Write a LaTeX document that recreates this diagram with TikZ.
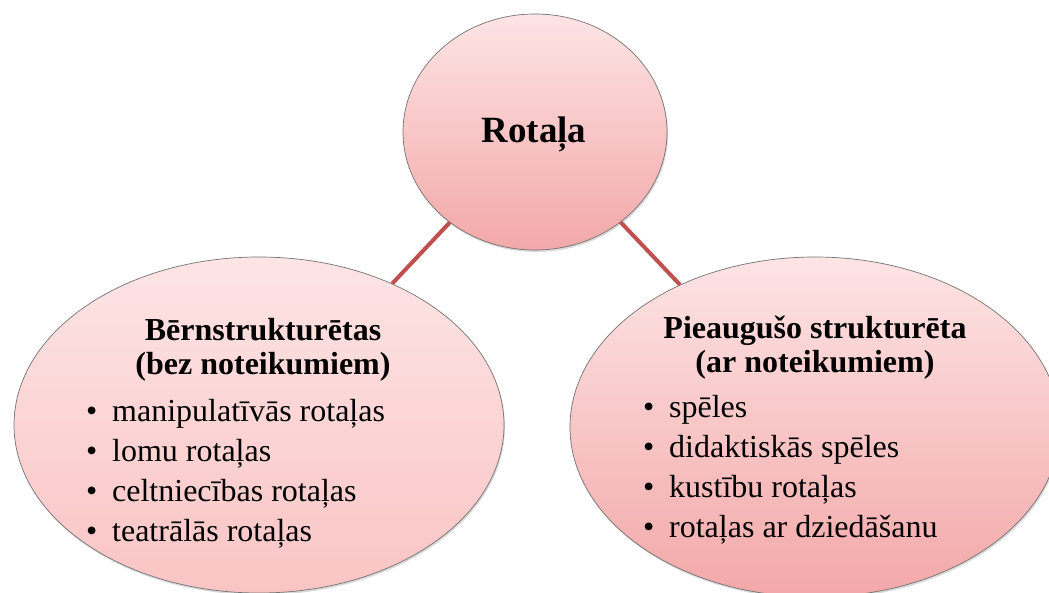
\documentclass[tikz,border=0pt]{standalone}
\usepackage{fontspec}
\setmainfont{Liberation Serif}
\usetikzlibrary{shapes.geometric,shadows}

\definecolor{pinktop}{RGB}{253,228,229}
\definecolor{pinkbot}{RGB}{243,168,168}
\definecolor{pinklow}{RGB}{250,196,196}
\definecolor{linkred}{RGB}{192,80,77}

\tikzset{
  bubble/.style={ellipse, draw=black!55, line width=0.7pt, inner sep=0pt,
    top color=pinktop, bottom color=pinkbot,
    drop shadow={shadow xshift=1pt, shadow yshift=-2pt, opacity=0.3}},
  link/.style={draw=linkred, line width=4pt},
  head/.style={font=\fontsize{32}{34}\selectfont\bfseries, align=center,
    anchor=north, inner sep=0pt},
  items/.style={font=\fontsize{32}{40}\selectfont, align=left,
    anchor=north west, inner sep=0pt}
}

\newcommand{\itm}{\makebox[26pt][l]{\textbullet}}

\begin{document}
\begin{tikzpicture}[x=1pt,y=-1pt]
  \useasboundingbox (0,0) rectangle (1049,593);

  % Bubbles
  \node[bubble, minimum width=264pt, minimum height=236pt] (rotala) at (535,132) {};
  \node[bubble, bottom color=pinklow, minimum width=490pt, minimum height=336pt] (bern) at (259,425) {};
  \node[bubble, minimum width=490pt, minimum height=340pt] (pieaug) at (815,427) {};

  % Links
  \draw[link] (rotala) -- (bern);
  \draw[link] (rotala) -- (pieaug);

  % Title
  \node[font=\fontsize{37}{40}\selectfont\bfseries, anchor=base] (title) at (534,143) {Rotaļa};

  % Left side
  \node[head] (bernhead) at (263,318) {Bērnstrukturētas\\(bez noteikumiem)};
  \node[items] (bernlist) at (86,399) {\itm manipulatīvās rotaļas\\
    \itm lomu rotaļas\\
    \itm celtniecības rotaļas\\
    \itm teatrālās rotaļas};

  % Right side
  \node[head] (pieaughead) at (815,316) {Pieaugušo strukturēta\\(ar noteikumiem)};
  \node[items] (pieauglist) at (643,395) {\itm spēles\\
    \itm didaktiskās spēles\\
    \itm kustību rotaļas\\
    \itm rotaļas ar dziedāšanu};
\end{tikzpicture}
\end{document}
